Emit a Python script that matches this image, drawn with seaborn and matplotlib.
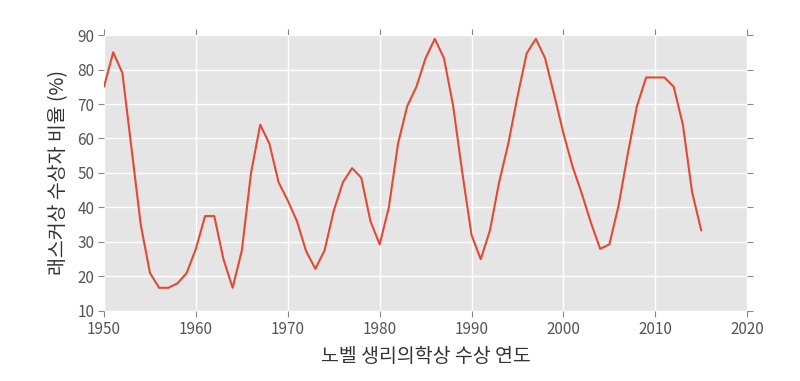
import numpy as np
import pandas as pd
import matplotlib
matplotlib.use('Agg')
import matplotlib.pyplot as plt
import seaborn as sns

# Share of Nobel physiology/medicine laureates who also won the Lasker award
years = list(range(1950, 2016))
ratio = [75, 85, 79, 57, 35, 21, 16.7, 16.7, 18, 21,
         28, 37.5, 37.5, 25, 16.7, 27.5, 50, 64, 58.5, 47.3,
         42, 36, 27.3, 22.2, 27.5, 39, 47.3, 51.4, 48.6, 36,
         29.3, 40, 58.5, 69.4, 75, 83.3, 88.9, 83.3, 69.4, 50,
         32, 25, 33.3, 47.3, 58.5, 72.2, 84.7, 88.9, 83.3, 72.6,
         61.5, 51.8, 44, 35.5, 28, 29.3, 40.5, 55.5, 69.4, 77.7,
         77.7, 77.7, 75, 64, 44.5, 33.3]

df = pd.DataFrame({'year': years, 'ratio': ratio})

sns.set_theme(style='darkgrid', rc={
    'axes.facecolor': '#E5E5E5',
    'grid.color': 'white',
    'grid.linewidth': 1.0,
    'axes.edgecolor': 'white',
})
plt.rcParams['font.family'] = ['Noto Sans CJK KR', 'DejaVu Sans']

fig, ax = plt.subplots(figsize=(8, 3.81), dpi=100)
fig.subplots_adjust(left=0.13, right=0.934, top=0.908, bottom=0.184)

sns.lineplot(data=df, x='year', y='ratio', color='#E24A33', linewidth=1.5, ax=ax)

ax.set_xlim(1950, 2020)
ax.set_ylim(10, 90)
ax.set_xticks(range(1950, 2021, 10))
ax.set_yticks(range(10, 91, 10))
for s in ax.spines.values():
    s.set_visible(False)
ax.tick_params(axis='both', which='both', direction='out', length=4, width=0.8,
               color='#888888', labelcolor='#555555', labelsize=11,
               top=True, right=True, bottom=True, left=True, pad=3)
ax.set_xlabel('노벨 생리의학상 수상 연도', fontsize=14, color='#333333', labelpad=6)
ax.set_ylabel('래스커상 수상자 비율 (%)', fontsize=14, color='#333333', labelpad=6)

fig.savefig('out.png', dpi=100)
